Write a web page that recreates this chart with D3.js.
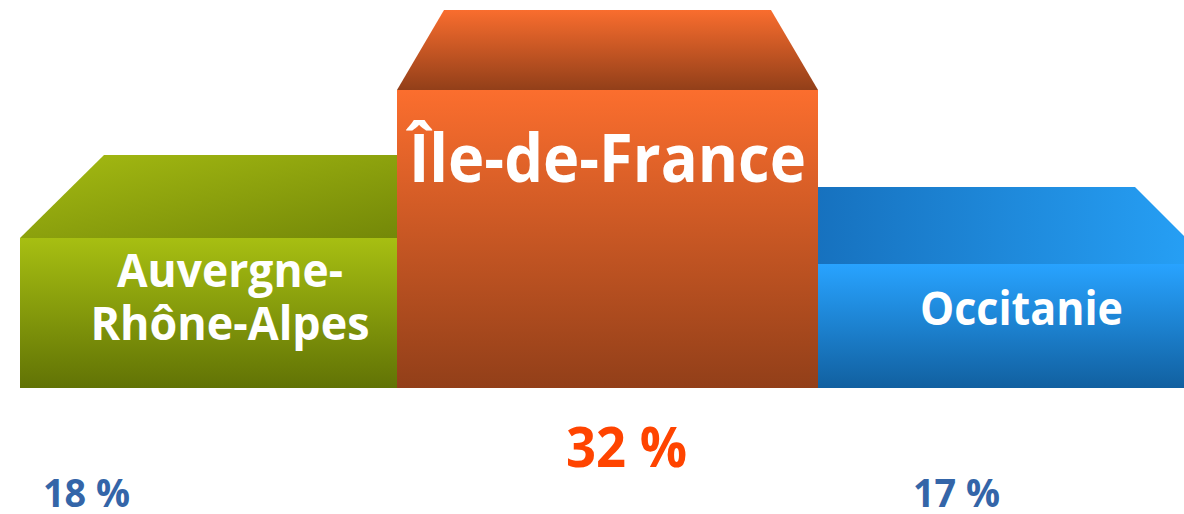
<!DOCTYPE html>
<html>
<head>
<meta charset="utf-8">
<script src="https://cdn.jsdelivr.net/npm/d3@7/dist/d3.min.js"></script>
<style>
  html, body { margin: 0; padding: 0; background: #ffffff; }
  svg { display: block; }
</style>
</head>
<body>
<svg id="chart" width="1184" height="514"></svg>
<script>
// ---- data ----
const regions = ["Auvergne-Rhône-Alpes", "Île-de-France", "Occitanie"];
const labelLines = [["Auvergne-", "Rhône-Alpes"], ["Île-de-France"], ["Occitanie"]];
const shares = [18, 32, 17];           // percent
const podiumRank = [2, 1, 3];          // podium step of each region

// ---- layout ----
const W = 1184, H = 514;
const baseY = 388;
const svg = d3.select("#chart");

// step height by rank (pixels of front face)
const stepHeight = d3.scaleOrdinal().domain([1, 2, 3]).range([298, 150, 124]);
const y = d => baseY - stepHeight(d);

const layout = [
  { x0: 20,  x1: 397,  depth: 83, insetL: 84, insetR: -12,
    front: ["#a7bf12", "#617305"], top: ["#a5bb12", "#738708"], topDir: "diag",
    lblCx: 230, lblY: [287, 340], lblW: [226, 279], lblSize: 47,
    pctCx: 86.5, pctY: 507, pctW: 87, pctSize: 40, pctColor: "#3465a8" },
  { x0: 397, x1: 818,  depth: 80, insetL: 47, insetR: 47,
    front: ["#fb6e2e", "#923f19"], top: ["#f96d2e", "#923f19"], topDir: "vert",
    lblCx: 607.5, lblY: [182], lblW: [397], lblSize: 66,
    pctCx: 626.5, pctY: 467, pctW: 121, pctSize: 56, pctColor: "#ff4400" },
  { x0: 818, x1: 1212, depth: 77, insetL: -12, insetR: 77,
    front: ["#28a3ff", "#1160a0"], top: ["#1670bd", "#27a2f8"], topDir: "horiz",
    lblCx: 1021.5, lblY: [325], lblW: [203], lblSize: 47,
    pctCx: 956.5, pctY: 507, pctW: 87, pctSize: 40, pctColor: "#3465a8" }
];

const defs = svg.append("defs");
layout.forEach((L, i) => {
  const gf = defs.append("linearGradient").attr("id", "front" + i)
    .attr("x1", 0).attr("y1", 0).attr("x2", 0).attr("y2", 1);
  gf.append("stop").attr("offset", "0%").attr("stop-color", L.front[0]);
  gf.append("stop").attr("offset", "100%").attr("stop-color", L.front[1]);
  const gt = defs.append("linearGradient").attr("id", "top" + i);
  if (L.topDir === "vert") gt.attr("x1", 0).attr("y1", 0).attr("x2", 0).attr("y2", 1);
  else if (L.topDir === "horiz") gt.attr("x1", 0).attr("y1", 0).attr("x2", 1).attr("y2", 0);
  else gt.attr("x1", 0).attr("y1", 0).attr("x2", 1).attr("y2", 1);
  gt.append("stop").attr("offset", "0%").attr("stop-color", L.top[0]);
  gt.append("stop").attr("offset", "100%").attr("stop-color", L.top[1]);
});

// draw order: side steps first, then the winner on top
const order = [0, 2, 1];
const line = d3.line();
order.forEach(i => {
  const L = layout[i];
  const top = y(podiumRank[i]);
  const g = svg.append("g");
  // top face
  g.append("path")
    .attr("d", line([[L.x0, top], [L.x0 + L.insetL, top - L.depth],
                     [L.x1 - L.insetR, top - L.depth], [L.x1, top]]) + "Z")
    .attr("fill", `url(#top${i})`);
  // front face
  g.append("rect")
    .attr("x", L.x0).attr("y", top)
    .attr("width", L.x1 - L.x0).attr("height", baseY - top)
    .attr("fill", `url(#front${i})`);
  // region label
  labelLines[i].forEach((t, k) => {
    g.append("text")
      .attr("x", L.lblCx - L.lblW[k] / 2)
      .attr("y", L.lblY[k])
      .attr("textLength", L.lblW[k])
      .attr("lengthAdjust", "spacingAndGlyphs")
      .attr("font-family", "'Open Sans', 'Noto Sans', sans-serif")
      .attr("font-weight", 700)
      .attr("font-size", L.lblSize)
      .attr("fill", "#ffffff")
      .text(t);
  });
});

// percentages
layout.forEach((L, i) => {
  svg.append("text")
    .attr("x", L.pctCx - L.pctW / 2)
    .attr("y", L.pctY)
    .attr("textLength", L.pctW)
    .attr("lengthAdjust", "spacingAndGlyphs")
    .attr("font-family", "'Open Sans', 'Noto Sans', sans-serif")
    .attr("font-weight", 700)
    .attr("font-size", L.pctSize)
    .attr("fill", L.pctColor)
    .text(shares[i] + " %");
});
</script>
</body>
</html>
